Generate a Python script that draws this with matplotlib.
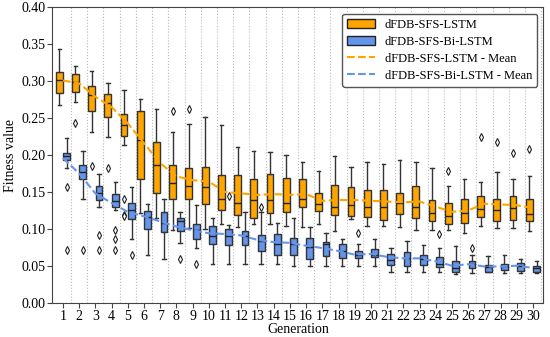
import matplotlib
matplotlib.use("Agg")
import matplotlib.pyplot as plt
from matplotlib.patches import Patch
from matplotlib.lines import Line2D
import numpy as np

plt.rcParams['font.family'] = ['Liberation Serif', 'DejaVu Serif']

generations = list(range(1, 31))

# dFDB-SFS-LSTM (orange)
lstm_lo = [0.268, 0.272, 0.231, 0.225, 0.214, 0.122, 0.114, 0.098, 0.101, 0.100,
           0.107, 0.102, 0.107, 0.107, 0.104, 0.103, 0.107, 0.097, 0.113, 0.104,
           0.104, 0.103, 0.098, 0.099, 0.098, 0.095, 0.104, 0.101, 0.101, 0.097]
lstm_q1 = [0.284, 0.286, 0.259, 0.252, 0.226, 0.168, 0.149, 0.140, 0.141, 0.134,
           0.126, 0.119, 0.115, 0.122, 0.123, 0.130, 0.124, 0.119, 0.117, 0.116,
           0.112, 0.120, 0.114, 0.110, 0.107, 0.108, 0.116, 0.111, 0.112, 0.111]
lstm_med = [0.302, 0.299, 0.281, 0.270, 0.240, 0.221, 0.187, 0.162, 0.158, 0.157,
            0.140, 0.135, 0.139, 0.139, 0.135, 0.141, 0.134, 0.130, 0.132, 0.130,
            0.129, 0.135, 0.129, 0.122, 0.117, 0.121, 0.127, 0.125, 0.128, 0.120]
lstm_q3 = [0.312, 0.310, 0.294, 0.283, 0.255, 0.260, 0.217, 0.186, 0.183, 0.184,
           0.173, 0.173, 0.168, 0.174, 0.169, 0.167, 0.149, 0.159, 0.157, 0.153,
           0.153, 0.149, 0.158, 0.139, 0.135, 0.140, 0.145, 0.140, 0.144, 0.140]
lstm_hi = [0.344, 0.321, 0.314, 0.297, 0.288, 0.276, 0.262, 0.231, 0.242, 0.251,
           0.241, 0.211, 0.206, 0.204, 0.200, 0.190, 0.179, 0.199, 0.184, 0.190,
           0.188, 0.193, 0.190, 0.183, 0.158, 0.168, 0.163, 0.177, 0.168, 0.172]
lstm_fliers = [[], [0.244], [0.185], [0.182], [0.141, 0.119, 0.118], [], [], [0.260], [0.262], [],
               [], [], [], [], [], [], [], [], [], [],
               [], [], [], [], [0.179], [], [0.224], [0.218], [0.203], [0.208]]
lstm_mean = [0.301, 0.297, 0.279, 0.265, 0.243, 0.216, 0.189, 0.171, 0.166, 0.164,
             0.150, 0.148, 0.146, 0.147, 0.146, 0.147, 0.138, 0.139, 0.139, 0.138,
             0.137, 0.136, 0.137, 0.130, 0.123, 0.125, 0.134, 0.133, 0.132, 0.128]

# dFDB-SFS-Bi-LSTM (blue)
bi_lo = [0.182, 0.140, 0.129, 0.126, 0.086, 0.064, 0.059, 0.081, 0.074, 0.052,
         0.052, 0.053, 0.053, 0.052, 0.050, 0.050, 0.050, 0.050, 0.050, 0.049,
         0.042, 0.041, 0.041, 0.041, 0.039, 0.040, 0.041, 0.040, 0.040, 0.040]
bi_q1 = [0.193, 0.167, 0.139, 0.130, 0.113, 0.100, 0.096, 0.097, 0.086, 0.080,
         0.078, 0.078, 0.070, 0.065, 0.065, 0.059, 0.063, 0.061, 0.060, 0.062,
         0.051, 0.050, 0.051, 0.048, 0.042, 0.047, 0.042, 0.044, 0.043, 0.042]
bi_med = [0.199, 0.177, 0.148, 0.138, 0.126, 0.116, 0.108, 0.110, 0.099, 0.090,
          0.090, 0.090, 0.083, 0.080, 0.080, 0.076, 0.079, 0.070, 0.065, 0.064,
          0.058, 0.061, 0.059, 0.053, 0.047, 0.052, 0.048, 0.049, 0.050, 0.047]
bi_q3 = [0.203, 0.187, 0.158, 0.147, 0.135, 0.124, 0.123, 0.115, 0.106, 0.104,
         0.100, 0.097, 0.092, 0.093, 0.087, 0.087, 0.082, 0.079, 0.070, 0.073,
         0.066, 0.069, 0.065, 0.062, 0.057, 0.056, 0.051, 0.053, 0.054, 0.049]
bi_hi = [0.223, 0.206, 0.174, 0.163, 0.157, 0.134, 0.141, 0.123, 0.132, 0.115,
         0.105, 0.123, 0.123, 0.108, 0.115, 0.103, 0.095, 0.086, 0.080, 0.086,
         0.074, 0.084, 0.078, 0.074, 0.077, 0.065, 0.063, 0.065, 0.059, 0.057]
bi_fliers = [[0.156, 0.071], [0.071], [0.092, 0.071], [0.098, 0.086, 0.071], [0.0645], [], [], [0.059], [0.053], [],
             [0.145], [], [0.130], [], [], [], [], [], [0.095], [],
             [], [], [], [0.093], [], [0.0736], [], [], [], []]
bi_mean = [0.196, 0.175, 0.148, 0.135, 0.123, 0.117, 0.110, 0.103, 0.098, 0.094,
           0.093, 0.091, 0.085, 0.082, 0.081, 0.077, 0.074, 0.070, 0.065, 0.066,
           0.062, 0.060, 0.060, 0.056, 0.050, 0.052, 0.049, 0.049, 0.050, 0.047]

ORANGE = '#FFA500'
BLUE = '#6495ED'
EDGE = '#333333'


def make_stats(lo, q1, med, q3, hi, fliers):
    return [dict(whislo=a, q1=b, med=c, q3=d, whishi=e, fliers=f)
            for a, b, c, d, e, f in zip(lo, q1, med, q3, hi, fliers)]


def draw(ax, stats, pos, color):
    ax.bxp(stats, positions=pos, widths=0.42, patch_artist=True, manage_ticks=False,
           boxprops=dict(facecolor=color, edgecolor=EDGE, linewidth=1.0),
           medianprops=dict(color='#222222', linewidth=1.0),
           whiskerprops=dict(color=EDGE, linewidth=1.0),
           capprops=dict(color=EDGE, linewidth=1.0),
           flierprops=dict(marker='d', markersize=4, markerfacecolor='white',
                           markeredgecolor='#222222', markeredgewidth=0.8))


fig = plt.figure(figsize=(5.5, 3.37), dpi=100)
ax = fig.add_axes([0.095, 0.102, 0.893, 0.876])

g = np.array(generations)
for xv in np.arange(1.5, 31, 1.0):
    ax.axvline(xv, color='#bbbbbb', linestyle=':', linewidth=0.8, zorder=0)

draw(ax, make_stats(lstm_lo, lstm_q1, lstm_med, lstm_q3, lstm_hi, lstm_fliers), g - 0.23, ORANGE)
draw(ax, make_stats(bi_lo, bi_q1, bi_med, bi_q3, bi_hi, bi_fliers), g + 0.23, BLUE)

ax.plot(g, lstm_mean, color=ORANGE, linestyle='--', linewidth=1.5, zorder=5)
ax.plot(g, bi_mean, color=BLUE, linestyle='--', linewidth=1.5, zorder=5)

ax.set_xlim(0.34, 30.64)
ax.set_ylim(0, 0.40)
ax.set_xticks(g)
ax.set_xticklabels([str(v) for v in generations])
ax.set_yticks(np.arange(0, 0.401, 0.05))
ax.set_yticklabels([f"{v:.2f}" for v in np.arange(0, 0.401, 0.05)])
ax.tick_params(labelsize=10, color='#444444', pad=1.5)
for s in ax.spines.values():
    s.set_color('#444444')
ax.set_xlabel("Generation", fontsize=10, labelpad=0)
ax.set_ylabel("Fitness value", fontsize=10, labelpad=3)

handles = [Patch(facecolor=ORANGE, edgecolor='#222222', label='dFDB-SFS-LSTM'),
           Patch(facecolor=BLUE, edgecolor='#222222', label='dFDB-SFS-Bi-LSTM'),
           Line2D([], [], color=ORANGE, linestyle='--', linewidth=1.5, label='dFDB-SFS-LSTM - Mean'),
           Line2D([], [], color=BLUE, linestyle='--', linewidth=1.5, label='dFDB-SFS-Bi-LSTM - Mean')]
leg = ax.legend(handles=handles, loc='upper right', fontsize=9, frameon=True,
                borderaxespad=0.5, handlelength=2.2, labelspacing=0.4)
leg.get_frame().set_edgecolor('#555555')
leg.get_frame().set_alpha(1)

fig.savefig("out.png", dpi=100)
